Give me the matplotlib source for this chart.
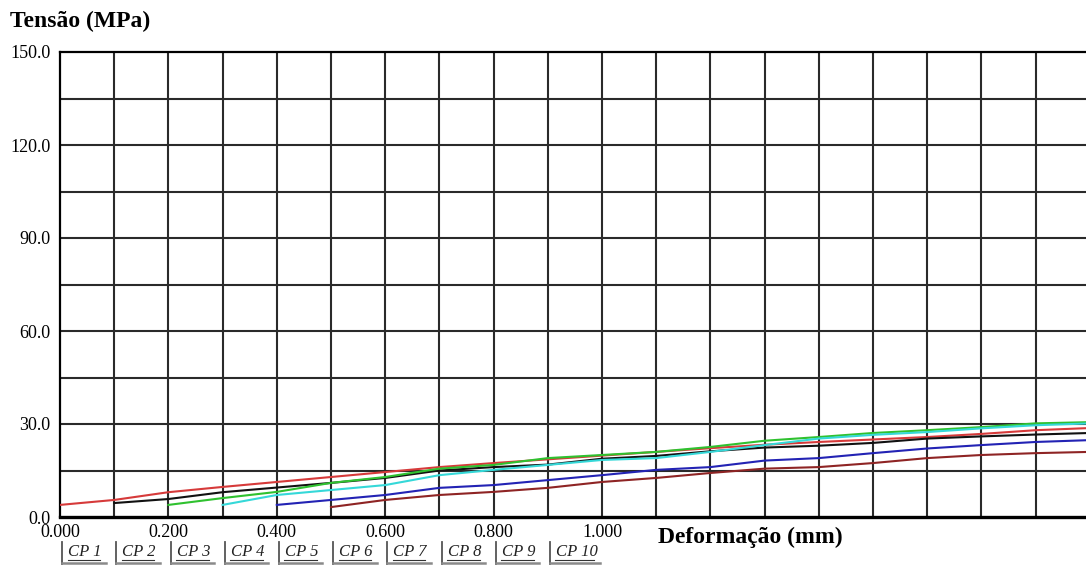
import numpy as np
import matplotlib.pyplot as plt
import matplotlib.transforms as mtransforms
from matplotlib.lines import Line2D

plt.rcParams['font.family'] = ['Liberation Serif', 'DejaVu Serif']

# deformacao (mm) de cada leitura; cada CP comeca deslocado 0.1 mm do anterior
deformacao = [0.0, 0.1, 0.2, 0.3, 0.4, 0.5, 0.6, 0.7, 0.8, 0.9,
              1.0, 1.1, 1.2, 1.3, 1.4, 1.5, 1.6, 1.7, 1.8, 1.9]

cp1 = [3.9, 5.5, 8.0, 9.7, 11.3, 12.9, 14.5, 16.1, 17.4, 18.6,
       19.8, 21.0, 22.2, 23.3, 24.2, 25.0, 25.8, 26.8, 28.0, 28.7]
cp2 = [4.5, 5.8, 8.0, 9.5, 11.0, 12.6, 15.0, 16.1, 16.9, 18.8,
       19.7, 21.2, 22.4, 23.0, 23.9, 25.3, 26.0, 26.6, 27.1]
cp3 = [3.9, 6.1, 8.1, 11.0, 12.9, 15.6, 16.8, 19.0, 20.0, 21.0,
       22.6, 24.6, 25.8, 27.1, 28.0, 29.0, 30.2, 30.6]
cp4 = [3.9, 7.1, 8.7, 10.3, 13.5, 15.2, 16.8, 18.4, 19.0, 21.0,
       23.2, 25.3, 26.5, 27.4, 28.6, 29.6, 30.2]
cp5 = [3.9, 5.5, 7.1, 9.4, 10.3, 11.9, 13.5, 15.2, 16.1, 18.2,
       19.0, 20.6, 22.1, 23.2, 24.2, 24.8]
cp6 = [3.2, 5.5, 7.1, 8.1, 9.4, 11.3, 12.6, 14.2, 15.6, 16.1,
       17.4, 19.0, 20.0, 20.6, 21.0]

curvas = [cp1, cp2, cp3, cp4, cp5, cp6]
cores = ['#d63a3a', '#111111', '#2fc12f', '#35d8d8', '#2323b4', '#8e2424']

legenda = ['CP 1', 'CP 2', 'CP 3', 'CP 4', 'CP 5',
           'CP 6', 'CP 7', 'CP 8', 'CP 9', 'CP 10']

x_ticks = [0.0, 0.2, 0.4, 0.6, 0.8, 1.0]
x_ticklabels = ['0.000', '0.200', '0.400', '0.600', '0.800', '1.000']
y_ticks = [0, 30, 60, 90, 120, 150]
y_ticklabels = ['0.0', '30.0', '60.0', '90.0', '120.0', '150.0']

W, H = 1086, 570
fig = plt.figure(figsize=(W / 100, H / 100), dpi=100)
ax = fig.add_axes([60 / W, 53 / H, 1026 / W, 465 / H])

for i, vals in enumerate(curvas):
    xs = deformacao[len(deformacao) - len(vals):]
    ax.plot(xs, vals, color=cores[i], lw=1.5, zorder=3)

ax.set_xlim(0, 1026 / 542)
ax.set_ylim(0, 150)

# grade de 0.1 mm x 15 MPa
for gx in np.arange(0.1, 1.9, 0.1):
    ax.axvline(gx, color='#2a2a2a', lw=1.5, zorder=1)
for gy in np.arange(15, 150, 15):
    ax.axhline(gy, color='#2a2a2a', lw=1.5, zorder=1)

ax.set_xticks(x_ticks, labels=x_ticklabels)
ax.set_yticks(y_ticks, labels=y_ticklabels)
ax.tick_params(length=0, labelsize=13, pad=5)
ax.tick_params(axis='y', pad=7)

ax.spines['right'].set_visible(False)
for s in ['top', 'left']:
    ax.spines[s].set_linewidth(1.6)
ax.spines['bottom'].set_linewidth(2.4)

fig.text(10 / W, 1 - 21 / H, 'Tensão (MPa)', fontsize=17, fontweight='bold',
         va='center', ha='left')
fig.text(658 / W, 1 - 537 / H, 'Deformação (mm)', fontsize=17,
         fontweight='bold', va='center', ha='left')

# abas da legenda embaixo do grafico
trans = mtransforms.blended_transform_factory(ax.transData, fig.transFigure)
for i, lab in enumerate(legenda):
    x0 = i * 0.1 + 0.004
    larg = 0.092 if len(lab) > 4 else 0.08
    fig.add_artist(Line2D([x0, x0], [1 - 542 / H, 1 - 564 / H],
                          color='#555555', lw=1.3, transform=trans))
    fig.add_artist(Line2D([x0, x0 + larg], [1 - 563 / H, 1 - 563 / H],
                          color='#8a8a8a', lw=1.8, transform=trans))
    fig.text(x0 + 0.011, 1 - 552 / H, lab, transform=trans, fontsize=12,
             style='italic', va='center', ha='left', color='#222222')
    fig.add_artist(Line2D([x0 + 0.01, x0 + larg - 0.01],
                          [1 - 560 / H, 1 - 560 / H],
                          color='#333333', lw=0.8, transform=trans))

fig.savefig('out.png', dpi=100)
